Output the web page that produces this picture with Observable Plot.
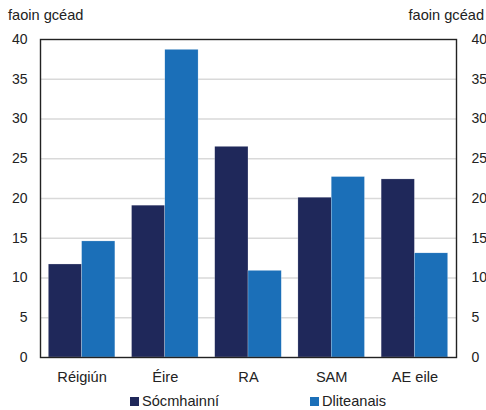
<!DOCTYPE html>
<html><head><meta charset="utf-8">
<script src="https://cdn.jsdelivr.net/npm/d3@7"></script>
<script src="https://cdn.jsdelivr.net/npm/@observablehq/plot@0.6"></script>
<style>
body{margin:0;background:#fff;font-family:"Liberation Sans",Arial,sans-serif;color:#222;}
#wrap{position:relative;width:486px;height:410px;overflow:hidden;}
.unit{position:absolute;top:7px;font-size:14.6px;line-height:16px;}
.leg{position:absolute;top:393px;font-size:14.6px;line-height:16px;display:flex;align-items:center;}
.sw{width:9px;height:9px;margin-right:3px;display:inline-block;}
#chart{position:absolute;left:0;top:0;}
</style></head>
<body><div id="wrap">
<div id="chart"></div>
<div class="unit" style="left:8px">faoin gcéad</div>
<div class="unit" style="right:2px">faoin gcéad</div>
<div id="legend"></div>
</div>
<script>
const categories = ["Réigiún", "Éire", "RA", "SAM", "AE eile"];
const seriesNames = ["Sócmhainní", "Dliteanais"];
const seriesColors = ["#1f285a", "#1b6fb8"];
const assets = [11.7, 19.1, 26.5, 20.1, 22.4];
const liabilities = [14.6, 38.7, 10.9, 22.7, 13.1];
const yTicks = [0, 5, 10, 15, 20, 25, 30, 35, 40];

const values = [assets, liabilities];
const rows = categories.flatMap((c, i) => seriesNames.map((s, k) => ({cat: c, i, k, series: s, value: values[k][i]})));
const gridVals = yTicks.filter(v => v > 0 && v < 40);
const catIdx = categories.map((c, i) => i);

const chart = Plot.plot({
  width: 486,
  height: 385,
  marginLeft: 40,
  marginRight: 30,
  marginTop: 39,
  marginBottom: 28,
  style: {fontFamily: "Liberation Sans, Arial, sans-serif", fontSize: "14px", color: "#222", background: "white"},
  x: {type: "linear", domain: [-0.5, categories.length - 0.5]},
  y: {domain: [0, 40]},
  color: {domain: seriesNames, range: seriesColors},
  marks: [
    Plot.ruleY(gridVals, {stroke: "#d9d9d9", strokeWidth: 1.3}),
    Plot.rectY(rows, {
      x1: d => d.i - 0.4 + 0.4 * d.k,
      x2: d => d.i + 0.4 * d.k,
      y: "value",
      fill: "series",
      stroke: "white",
      strokeWidth: 0.4,
      strokeOpacity: 0.6
    }),
    Plot.frame({stroke: "#222", strokeWidth: 1.4}),
    Plot.axisY({anchor: "left", ticks: yTicks, tickSize: 0, tickPadding: 13, fontSize: 14, label: null}),
    Plot.axisY({anchor: "right", ticks: yTicks, tickSize: 0, tickPadding: 15, fontSize: 14, label: null}),
    Plot.axisX({ticks: catIdx, tickFormat: i => categories[i], tickSize: 0, tickPadding: 14, fontSize: 14.6, label: null})
  ]
});
document.getElementById("chart").appendChild(chart);

const legendLeft = [130, 310];
const leg = document.getElementById("legend");
seriesNames.forEach((s, k) => {
  const d = document.createElement("div");
  d.className = "leg";
  d.style.left = legendLeft[k] + "px";
  d.innerHTML = `<span class="sw" style="background:${seriesColors[k]}"></span><span>${s}</span>`;
  leg.appendChild(d);
});
</script>
</body></html>
